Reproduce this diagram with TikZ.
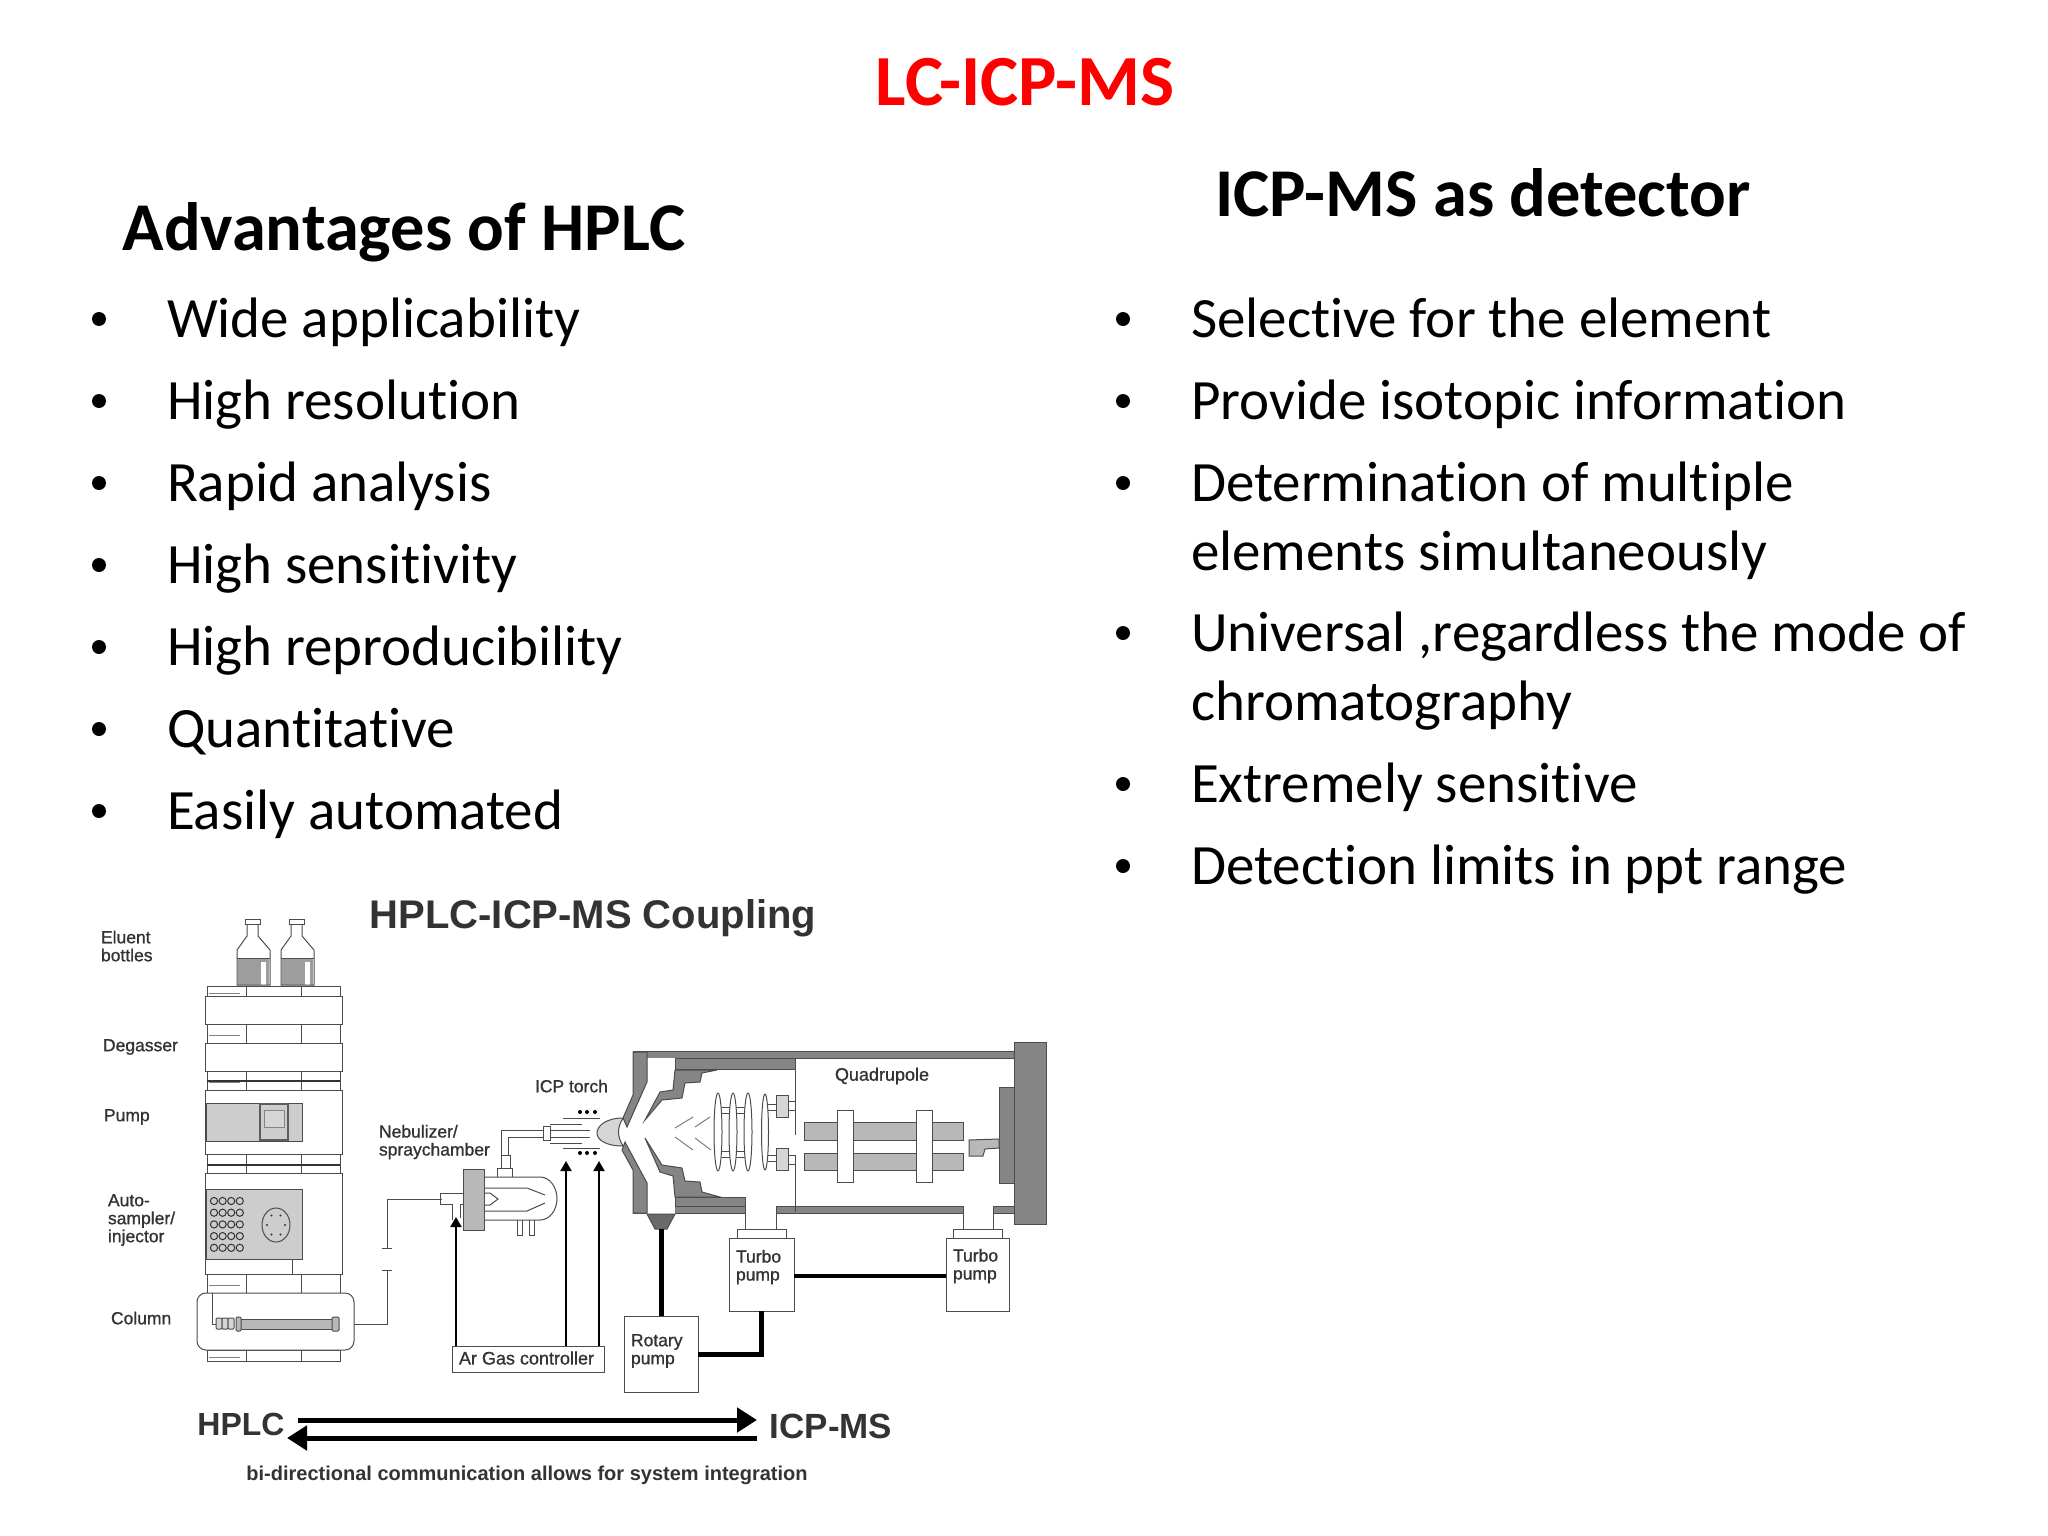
\documentclass[tikz,border=0pt]{standalone}
\usepackage{fontspec}
\setmainfont{Carlito}[Ligatures={NoCommon}]
\newfontfamily\arialf{Liberation Sans}
\newfontfamily\labf{Liberation Sans}[FakeBold=1]
\usetikzlibrary{arrows.meta}
\definecolor{ink}{gray}{0.2}
\definecolor{linec}{gray}{0.3}
\definecolor{midg}{gray}{0.72}
\definecolor{darkg}{gray}{0.52}
\definecolor{lightg}{gray}{0.84}
\newcommand{\bodyf}{\fontsize{57}{66}\selectfont}
\newcommand{\headf}{\fontsize{68.4}{80}\selectfont\bfseries}
\tikzset{
  x=1pt,y=-1pt,
  txt/.style={inner sep=0pt,outer sep=0pt,anchor=base west,text=black,font=\bodyf},
  blt/.style={circle,fill=black,inner sep=0pt,outer sep=0pt,minimum size=14pt},
  head/.style={inner sep=0pt,outer sep=0pt,anchor=center,text=black,font=\headf},
  lab/.style={inner sep=0pt,outer sep=0pt,anchor=west,text=ink,font=\labf\fontsize{17.5}{18}\selectfont,align=left},
  bold/.style={inner sep=0pt,outer sep=0pt,anchor=center,text=ink,font=\arialf\bfseries},
  ln/.style={draw=linec,line width=1pt},
  pipe/.style={draw=black,line width=2pt,-{Triangle[length=10pt,width=11pt]}},
  thick pipe/.style={draw=black,line width=5pt},
  bigarrow/.style={draw=black,line width=5pt,-{Triangle[length=20pt,width=24pt]}},
  unit/.style={draw=linec,line width=1pt,fill=white,inner sep=0pt,outer sep=0pt},
}
\begin{document}
\begin{tikzpicture}
\useasboundingbox (0,0) rectangle (2048,1536);
\fill[white] (0,0) rectangle (2048,1536);

% ---- titles
\node[head,text=red,font=\fontsize{72}{84}\selectfont\bfseries] (title) at (1025,82) {LC-ICP-MS};
\node[head] (lefthead) at (404,232) {Advantages of HPLC};
\node[head] (righthead) at (1483,193) {ICP-MS as detector};

% ---- left list
\foreach \yy/\tt [count=\i] in {337/Wide applicability,419/High resolution,501/Rapid analysis,583/High sensitivity,665/High reproducibility,747/Quantitative,829/Easily automated}{
  \node[blt] (lb\i) at (99,\yy-18) {};
  \node[txt] (lt\i) at (167,\yy) {\tt};
}
% ---- right list
\foreach \yy/\tt [count=\i] in {337/Selective for the element,419/Provide isotopic information,501/Determination of multiple,651/{Universal ,regardless the mode of},802/Extremely sensitive,884/Detection limits in ppt range}{
  \node[blt] (rb\i) at (1123,\yy-18) {};
  \node[txt] (rt\i) at (1191,\yy) {\tt};
}
\node[txt] (rc1) at (1191,570) {elements simultaneously};
\node[txt] (rc2) at (1191,720) {chromatography};

% ---- bottles
\foreach \dx in {0,44}{
  \begin{scope}[xshift=\dx pt]
  \fill[darkg!80] (238,958) rectangle (269,985);
  \fill[white] (261,962) rectangle (266,985);
  \draw[ln] (245,919) rectangle (260,924);
  \draw[ln] (247,924) -- (247,936) -- (237,950) -- (237,985) -- (270,985) -- (270,950) -- (258,936) -- (258,924);
  \draw[ln] (237,958) -- (270,958);
  \end{scope}
}

% ---- stack feet
\foreach \a/\b in {986/996,1024/1043,1071/1090,1154/1173,1274/1293,1350/1361}{
  \draw[ln] (207,\a) rectangle (340,\b);
  \draw[ln] (246,\a) -- (246,\b) (301,\a) -- (301,\b);
  \draw[ln,gray] (209,{(\a+\b)/2+2}) -- (240,{(\a+\b)/2+2});
}
\draw[line width=1.6pt,ink] (207,1081) -- (340,1081) (207,1165) -- (340,1165);

% ---- stack modules
\draw[unit] (205,996) rectangle (342,1024);
\draw[unit] (205,1043) rectangle (342,1071);
\draw[unit] (205,1090) rectangle (342,1154);
\draw[unit] (205,1173) rectangle (342,1274);
\draw[ln,fill=midg!70] (206,1103) rectangle (302,1141);
\draw[line width=1.8pt,darkg!70!black,fill=midg!70] (260,1104) rectangle (288,1140);
\draw[line width=.8pt,darkg,fill=lightg] (264,1110) rectangle (284,1127);
\draw[ln,fill=midg!70] (206,1189) rectangle (302,1259);
\foreach \r in {0,1,2,3,4}{
  \foreach \c in {0,1,2,3}{
    \draw[line width=1pt,ink] ({214+\c*8.6},{1201+\r*11.7}) circle[radius=3.6pt];
  }
}
\draw[ln] (276,1225) circle[x radius=14pt,y radius=17pt];
\foreach \a in {0,60,...,300}{\fill[ink] ({276+9*cos(\a)},{1225+11*sin(\a)}) circle[radius=1.2pt];}
\draw[ln] (292,1259) -- (292,1274);

% ---- column oven
\node[unit,rounded corners=9pt,minimum width=157pt,minimum height=57pt] (oven) at (275.5,1321.5) {};
\draw[ln] (212,1293) -- (212,1324) -- (216,1324);
\foreach \xx in {219,225,231}{\draw[ln,fill=lightg,rounded corners=1pt] (\xx-3,1318) rectangle (\xx+3,1329);}
\draw[ln,fill=midg] (240,1319) rectangle (338,1329);
\draw[ln,fill=midg,rounded corners=1pt] (236,1317) rectangle (241,1331);
\draw[ln,fill=midg,rounded corners=1pt] (332,1317) rectangle (339,1331);

% ---- stack labels
\node[lab] (l1) at (101,946) {Eluent\\bottles};
\node[lab] (l2) at (103,1047) {Degasser};
\node[lab] (l3) at (104,1117) {Pump};
\node[lab] (l4) at (108,1220) {Auto-\\sampler/\\injector};
\node[lab] (l5) at (111,1318) {Column};

% ---- nebulizer / spray chamber
\coordinate (nebin) at (442,1199);
\draw[ln] (oven.east |- 0,1324) -- (387,1324) -- (387,1270);
\draw[ln] (387,1248) -- (387,1199) -- (nebin);
\draw[ln] (382,1270) -- (392,1270) (382,1248) -- (392,1248);
\draw[ln] (484,1177) -- (540,1177) arc[start angle=-90,end angle=90,x radius=17pt,y radius=-21.5pt] -- (484,1220);
\draw[ln] (484,1188) -- (527,1188) -- (545,1195) (484,1211) -- (527,1211) -- (545,1203);
\draw[ln] (484,1193) -- (490,1193) -- (498,1199) -- (490,1205) -- (484,1205);
\draw[ln] (440,1193) -- (463,1193) (440,1204) -- (452,1204) -- (452,1220) (463,1204) -- (460,1204) -- (460,1218);
\draw[ln] (440,1193) -- (440,1204);
\draw[ln,fill=midg] (463,1169) rectangle (484,1230);
\draw[ln] (517,1220) -- (517,1235) -- (522,1235) -- (522,1220) (529,1220) -- (529,1235) -- (534,1235) -- (534,1220);
\draw[ln] (497,1177) -- (497,1168) -- (512,1168) -- (512,1177) (501,1168) -- (501,1155) -- (510,1155) -- (510,1168);
\draw[ln] (501,1155) -- (501,1130) -- (543,1130) (508,1155) -- (508,1137) -- (543,1137);
\draw[ln,fill=white] (543,1126) rectangle (550,1140);
\draw[ln] (550,1124) -- (582,1124) (550,1130) -- (590,1130) (550,1137) -- (590,1137) (550,1143) -- (582,1143);
\draw[ln] (563,1118) -- (600,1118) (563,1148) -- (600,1148);
\foreach \xx in {580,587,595}{
  \fill[black] (\xx,1112) circle[radius=2pt];
  \fill[black] (\xx,1153) circle[radius=2pt];
}
\draw[ln,fill=lightg] (623,1118) .. controls (606,1118) and (597,1126) .. (597,1133) .. controls (597,1140) and (606,1146) .. (623,1146) .. controls (617,1136) and (617,1128) .. (623,1118) -- cycle;

% ---- Ar gas controller and its feeds
\node[unit,minimum width=152pt,minimum height=26pt] (ar) at (528.5,1359) {};
\node[lab,anchor=center,font=\labf\fontsize{18}{20}\selectfont] (artxt) at (526.5,1358) {Ar Gas controller};
\coordinate (feed1) at (456,1217);
\coordinate (feed2) at (566,1161);
\coordinate (feed3) at (599,1161);
\draw[pipe] (feed1 |- ar.north) -- (feed1);
\draw[pipe] (feed2 |- ar.north) -- (feed2);
\draw[pipe] (feed3 |- ar.north) -- (feed3);

% ---- mass spectrometer housing
\draw[ln,fill=darkg] (633,1051) rectangle (1016,1058);
\draw[ln,fill=darkg] (633,1206) rectangle (745,1213);
\draw[ln,fill=darkg] (776,1206) rectangle (963,1213);
\draw[ln,fill=darkg] (993,1206) rectangle (1016,1213);
\fill[white] (647,1058) rectangle (675,1215);
\draw[ln,fill=darkg] (675,1058) rectangle (795,1069);
\draw[ln,fill=darkg] (675,1197) rectangle (745,1206);
\draw[ln,fill=darkg] (1014,1042) rectangle (1046,1224);
\draw[ln,fill=darkg] (999,1087) rectangle (1014,1183);
\draw[ln] (795,1058) -- (795,1135) (795,1155) -- (795,1212);
% skimmer / sampler cones
\draw[ln,fill=darkg] (633,1052) -- (647,1052) -- (647,1082) -- (627,1127) -- (623,1118) -- (633,1095) -- cycle;
\draw[ln,fill=darkg] (633,1213) -- (647,1213) -- (647,1183) -- (625,1142) -- (622,1150) -- (633,1170) -- cycle;
\draw[ln,fill=darkg] (675,1070) -- (717,1070) -- (702,1073) -- (700,1082) -- (685,1083) -- (682,1098) -- (662,1100) -- (645,1120) -- (660,1092) -- (673,1090) -- cycle;
\draw[ln,fill=darkg] (675,1197) -- (720,1197) -- (702,1192) -- (700,1182) -- (685,1181) -- (682,1168) -- (662,1165) -- (645,1138) -- (660,1172) -- (673,1176) -- cycle;
\draw[ln,fill=darkg!80!black] (647,1214) -- (675,1214) -- (667,1229) -- (655,1229) -- cycle;
% ion beam
\draw[line width=1pt,gray] (675,1128) -- (693,1117) (695,1127) -- (710,1117) (675,1137) -- (693,1150) (695,1138) -- (711,1150);
% lenses
\draw[ln] (718,1107) -- (748,1107) (718,1157) -- (748,1157) (718,1113) -- (748,1113) (718,1151) -- (748,1151);
\foreach \xx in {718,733,748}{\draw[ln,fill=white] (\xx,1132) circle[x radius=4pt,y radius=39pt];}
\draw[ln,fill=white] (765,1132) circle[x radius=3.5pt,y radius=38pt];
\draw[ln] (768,1104) -- (776,1104) (768,1110) -- (776,1110) (768,1155) -- (776,1155) (768,1161) -- (776,1161);
\draw[ln,fill=lightg] (776,1095) rectangle (788,1117);
\draw[ln,fill=lightg] (776,1148) rectangle (788,1170);
\draw[ln] (788,1101) -- (795,1101) (788,1110) -- (795,1110) (788,1155) -- (795,1155) (788,1164) -- (795,1164);
% quadrupole
\draw[ln,fill=midg] (804,1122) rectangle (963,1140);
\draw[ln,fill=midg] (804,1153) rectangle (963,1170);
\draw[ln,fill=white] (837,1110) rectangle (853,1182);
\draw[ln,fill=white] (916,1110) rectangle (932,1182);
\draw[ln,fill=midg] (969,1140) -- (999,1139) -- (999,1148) -- (985,1149) -- (983,1156) -- (969,1156) -- cycle;
\node[lab,font=\labf\fontsize{18}{20}\selectfont,anchor=center] (quad) at (882,1076) {Quadrupole};

% ---- pumps
\draw[ln] (745,1213) -- (745,1229) (776,1213) -- (776,1229);
\draw[ln] (963,1213) -- (963,1229) (993,1213) -- (993,1229);
\draw[ln] (737,1238) -- (737,1229) -- (786,1229) -- (786,1238);
\draw[ln] (953,1238) -- (953,1229) -- (1002,1229) -- (1002,1238);
\node[unit,minimum width=65pt,minimum height=73pt] (turboa) at (761.5,1274.5) {};
\node[unit,minimum width=63pt,minimum height=73pt] (turbob) at (977.5,1274.5) {};
\node[unit,minimum width=74pt,minimum height=76pt] (rotary) at (661,1354) {};
\node[lab] (ta) at (736,1267) {Turbo\\pump};
\node[lab] (tb) at (953,1266) {Turbo\\pump};
\node[lab] (rp) at (631,1351) {Rotary\\pump};
\coordinate (funnel) at (661,1229);
\draw[thick pipe] (funnel) -- (rotary.north);
\draw[thick pipe] (rotary.east) -- (rotary.east -| turboa.south) -- (turboa.south);
\draw[draw=black,line width=4pt] (turboa.east |- 0,1276) -- (turbob.west |- 0,1276);

% ---- labels
\node[lab] (lneb) at (379,1142) {Nebulizer/\\spraychamber};
\node[lab] (ltorch) at (535,1086) {ICP torch};
\node[bold,font=\arialf\bfseries\fontsize{40}{44}\selectfont] (cpl) at (593,918) {HPLC-ICP-MS Coupling};
\node[bold,font=\arialf\bfseries\fontsize{32}{38}\selectfont] (hplc) at (241,1424) {HPLC};
\node[bold,font=\arialf\bfseries\fontsize{35}{40}\selectfont] (icp) at (831,1426) {ICP-MS};
\node[bold,font=\arialf\bfseries\fontsize{20}{24}\selectfont] (bi) at (527,1475) {bi-directional communication allows for system integration};

% ---- communication arrows
\coordinate (aw) at (298,1420);
\coordinate (ae) at (757,1420);
\coordinate (bw) at (287,1438);
\coordinate (be) at (757,1438);
\draw[bigarrow] (aw) -- (ae);
\draw[bigarrow] (be) -- (bw);
\end{tikzpicture}
\end{document}
